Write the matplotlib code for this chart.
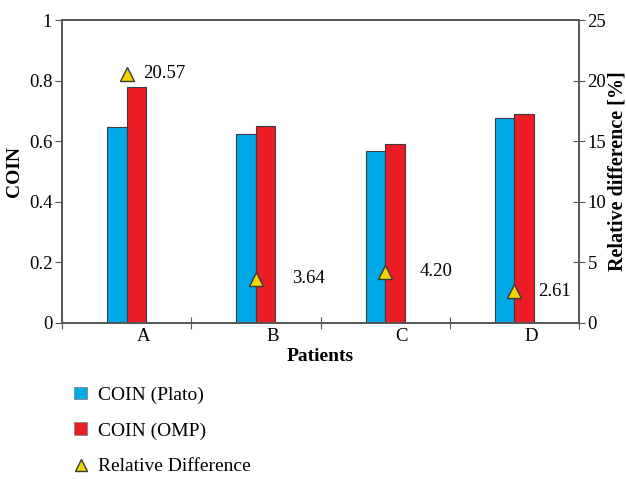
import numpy as np
import matplotlib
matplotlib.use('Agg')
import matplotlib.pyplot as plt
from matplotlib.patches import Patch
from matplotlib.lines import Line2D

patients = ['A', 'B', 'C', 'D']
coin_plato = [0.647, 0.624, 0.568, 0.677]
coin_omp = [0.779, 0.650, 0.591, 0.690]
rel_diff = [20.57, 3.64, 4.20, 2.61]
rel_labels = ['20.57', '3.64', '4.20', '2.61']

blue = '#00a8e8'
red = '#ec1c24'
yellow = '#f2d500'
edge = '#3a3a3a'
spine_col = '#555555'

plt.rcParams['font.family'] = ['Liberation Serif', 'DejaVu Serif']
plt.rcParams['font.size'] = 13.5

fig = plt.figure(figsize=(6.26, 4.79), dpi=100)
ax = fig.add_axes([0.099, 0.326, 0.826, 0.632])
ax2 = ax.twinx()

x = np.arange(len(patients))
w = 0.15
ax.bar(x - w / 2, coin_plato, w, color=blue, edgecolor=edge, linewidth=0.8)
ax.bar(x + w / 2, coin_omp, w, color=red, edgecolor=edge, linewidth=0.8)

ax.set_xlim(-0.5, 3.5)
ax.set_ylim(0, 1)
ax.set_yticks([0, 0.2, 0.4, 0.6, 0.8, 1])
ax.set_yticklabels(['0', '0.2', '0.4', '0.6', '0.8', '1'])

# boundaries as tick marks, labels slightly right of the bars
ax.set_xticks([-0.5, 0.5, 1.5, 2.5, 3.5])
ax.set_xticklabels([])
ax.set_xticks(x + 0.13, minor=True)
ax.set_xticklabels(patients, minor=True)
ax.tick_params(axis='x', which='major', direction='inout', length=8, color=spine_col)
ax.tick_params(axis='x', which='minor', length=0, pad=4)
ax.tick_params(axis='y', direction='out', length=5, color=spine_col, pad=2)

ax2.plot(x, rel_diff, linestyle='none', marker='^', markersize=10,
         markerfacecolor=yellow, markeredgecolor=edge, markeredgewidth=1)
offsets = [12, 26, 25, 17]
for xi, yi, lab, off in zip(x, rel_diff, rel_labels, offsets):
    ax2.annotate(lab, (xi, yi), xytext=(off, 0), textcoords='offset points',
                 ha='left', va='center', fontsize=13.5)
ax2.set_ylim(0, 25)
ax2.set_yticks([0, 5, 10, 15, 20, 25])
ax2.tick_params(axis='y', direction='inout', length=8, color=spine_col, pad=2)

for a in (ax, ax2):
    for s in a.spines.values():
        s.set_color(spine_col)
        s.set_linewidth(1.2)

ax.set_ylabel('COIN', fontweight='bold', fontsize=14, labelpad=4)
ax2.set_ylabel('Relative difference [%]', fontweight='bold', fontsize=14.5, labelpad=1)
ax.set_xlabel('Patients', fontweight='bold', fontsize=14, labelpad=2)

handles = [
    Patch(facecolor=blue, edgecolor='#888888', linewidth=0.6),
    Patch(facecolor=red, edgecolor='#888888', linewidth=0.6),
    Line2D([], [], linestyle='none', marker='^', markersize=9,
           markerfacecolor=yellow, markeredgecolor=edge),
]
fig.legend(handles, ['COIN (Plato)', 'COIN (OMP)', 'Relative Difference'],
           loc='upper left', bbox_to_anchor=(0.119, 0.193), frameon=False,
           fontsize=14, handlelength=0.62, handleheight=0.62, handletextpad=0.6,
           labelspacing=0.95, borderaxespad=0, borderpad=0)

fig.savefig('out.png', dpi=100)
